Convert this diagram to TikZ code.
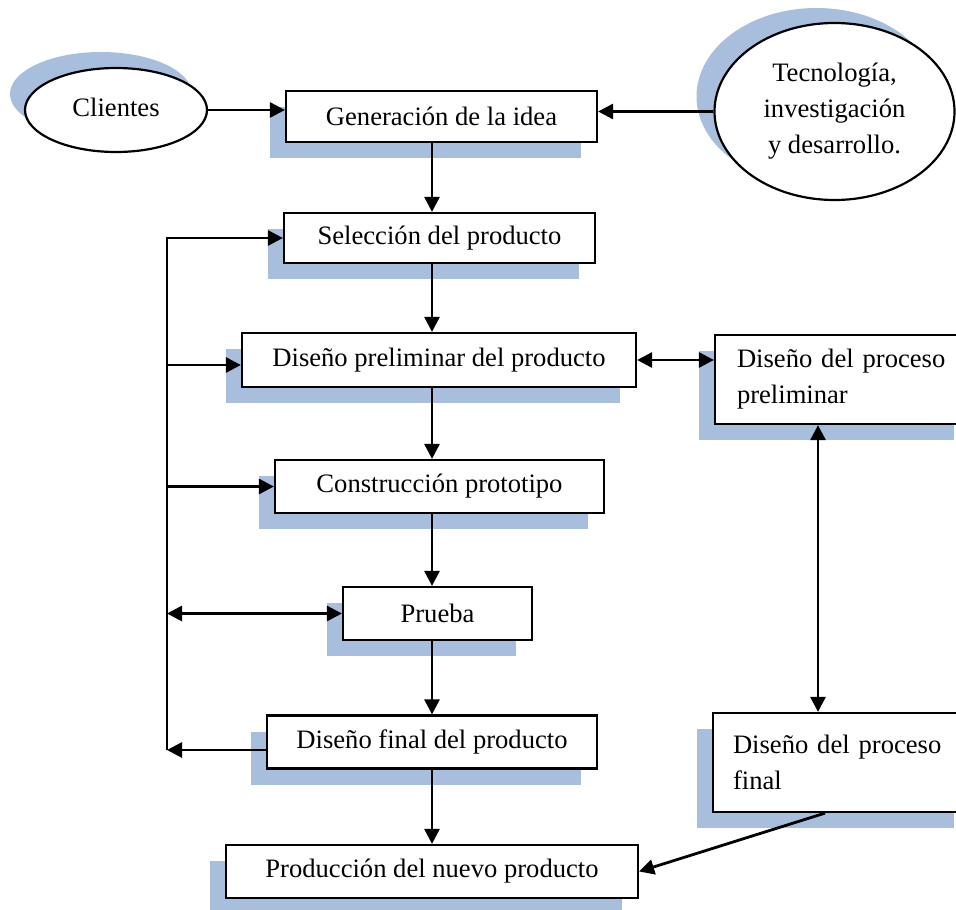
\documentclass[tikz,border=0pt]{standalone}
\usepackage{fontspec}
\setmainfont{Liberation Serif}
\usetikzlibrary{arrows.meta,shapes.geometric,shadows}
\definecolor{shade}{RGB}{167,191,221}
\begin{document}
\begin{tikzpicture}[x=0.5pt,y=-0.5pt,
  font=\fontsize{13.3}{18}\selectfont,
  boxshadow/.style={drop shadow={shadow xshift=-8pt,shadow yshift=-8pt,fill=shade,opacity=1}},
  stepbox/.style={draw,line width=1.1pt,fill=white,inner sep=0pt,boxshadow},
  notebox/.style={draw,line width=1.1pt,fill=white,inner ysep=0pt,align=left,boxshadow},
  oval/.style={ellipse,draw,line width=1.1pt,fill=white,inner sep=0pt},
  arr/.style={line width=1.4pt,-{Triangle[length=7.5pt,width=7.5pt]}},
  darr/.style={line width=1.4pt,{Triangle[length=7.5pt,width=7.5pt]}-{Triangle[length=7.5pt,width=7.5pt]}}]
\useasboundingbox (0,0) rectangle (956,909);

% sources of ideas
\node[oval,minimum width=91pt,minimum height=42pt,
  drop shadow={shadow xshift=-7.5pt,shadow yshift=8pt,fill=shade,opacity=1}]
  (cli) at (116,110) {\raisebox{3pt}{Clientes}};
\node[oval,minimum width=120pt,minimum height=88.5pt,align=center,
  drop shadow={shadow xshift=-9pt,shadow yshift=7.5pt,fill=shade,opacity=1}]
  (tec) at (834.5,111.5) {Tecnología,\\investigación\\y desarrollo.};

% main sequence of stages
\node[stepbox,minimum width=155.5pt,minimum height=25.5pt] (gen)  at (441.5,116.5) {Generación de la idea};
\node[stepbox,minimum width=155.5pt,minimum height=25pt]   (sel)  at (439.5,238)   {Selección del producto};
\node[stepbox,minimum width=197pt,minimum height=27pt]     (dpre) at (439,360)     {Diseño preliminar del producto};
\node[stepbox,minimum width=164.5pt,minimum height=26.5pt] (cons) at (439.5,486.5) {Construcción prototipo};
\node[stepbox,minimum width=94.5pt,minimum height=26.5pt]  (prue) at (437.5,613.5) {Prueba};
\node[stepbox,minimum width=165pt,minimum height=26.5pt]   (dfin) at (432,742)     {Diseño final del producto};
\node[stepbox,minimum width=206pt,minimum height=26.5pt]   (prod) at (432,871.5)   {Producción del nuevo producto};

% process design, running past the right edge
\node[notebox,inner xsep=11pt,text width=105.5pt,minimum height=44.5pt] (dpp) at (842.5,379.5) {Diseño del proceso\\preliminar};
\node[notebox,inner xsep=10pt,text width=108.5pt,minimum height=49.5pt] (dpf) at (841.5,762.5) {Diseño del proceso\\final};

% guide lines
\coordinate (M) at (432,0);
\coordinate (L) at (167,0);
\coordinate (R) at (818,0);
\coordinate (dpreL) at ([yshift=-2.5pt]dpre.west);
\coordinate (dfinL) at ([yshift=-4pt]dfin.west);
\coordinate (dpfS) at (825,0);

% connectors
\draw[arr] (cli.east) -- (cli.east -| gen.west);
\draw[arr] (tec.west) -- (tec.west -| gen.east);
\draw[arr] (gen.south -| M) -- (sel.north -| M);
\draw[arr] (sel.south -| M) -- (dpre.north -| M);
\draw[arr] (dpre.south -| M) -- (cons.north -| M);
\draw[arr] (cons.south -| M) -- (prue.north -| M);
\draw[arr] (prue.south -| M) -- (dfin.north -| M);
\draw[arr] (dfin.south -| M) -- (prod.north -| M);
\draw[darr] (dpre.east) -- (dpre.east -| dpp.west);
\draw[darr] (dpp.south -| R) -- (dpf.north -| R);
\draw[arr] (dpf.south -| dpfS) -- (prod.east);

% feedback loop on the left
\draw[arr] (dfinL) -- (dfinL -| L);
\draw[arr] (dfinL -| L) -- (L |- sel.west) -- (sel.west);
\draw[arr] (dpreL -| L) -- (dpreL);
\draw[arr] (L |- cons.west) -- (cons.west);
\draw[darr] (L |- prue.west) -- (prue.west);
\end{tikzpicture}
\end{document}
